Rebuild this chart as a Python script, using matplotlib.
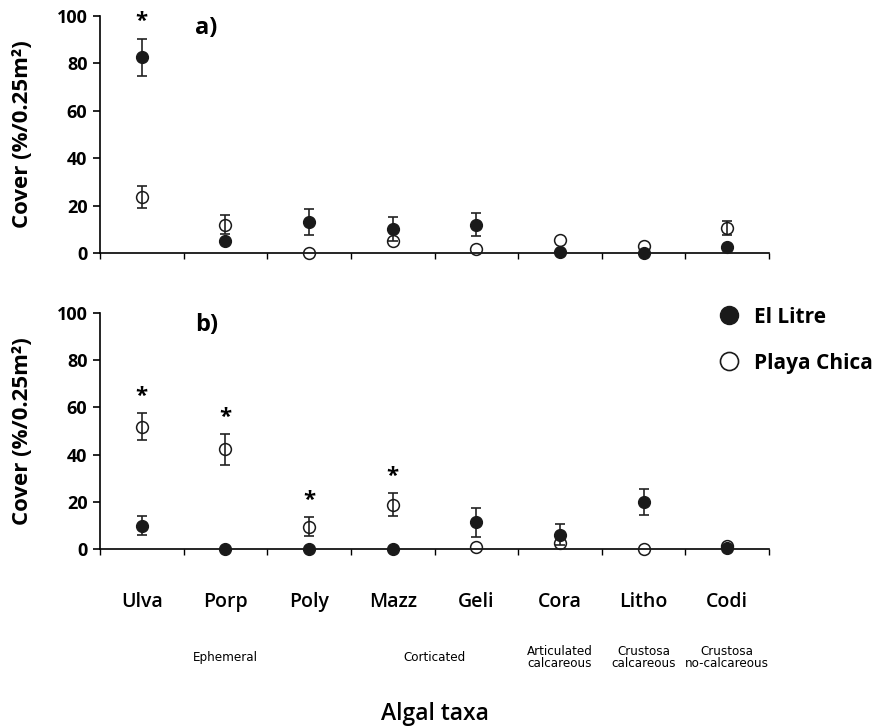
import numpy as np
import matplotlib.pyplot as plt
from matplotlib.lines import Line2D

plt.rcParams["font.family"] = ["Open Sans", "DejaVu Sans"]

taxa = ["Ulva", "Porp", "Poly", "Mazz", "Geli", "Cora", "Litho", "Codi"]
groups = [("Ephemeral", 0, 2), ("Corticated", 3, 4),
          ("Articulated\ncalcareous", 5, 5), ("Crustosa\ncalcareous", 6, 6),
          ("Crustosa\nno-calcareous", 7, 7)]

# panel a
a_litre = np.array([82.5, 5, 13, 10, 12, 0.5, 0, 2.7])
a_litre_se = np.array([8, 0, 5.5, 5, 4.8, 0, 0, 0])
a_chica = np.array([23.5, 12, 0, 5, 1.5, 5.5, 3, 10.4])
a_chica_se = np.array([4.7, 4, 0, 0, 0, 0, 0, 3])
a_signif = [True, False, False, False, False, False, False, False]

# panel b
b_litre = np.array([9.8, 0, 0, 0, 11.3, 6, 19.8, 0.3])
b_litre_se = np.array([4, 0, 0, 0, 6, 4.5, 5.5, 0])
b_chica = np.array([51.8, 42.2, 9.4, 18.8, 1, 2.4, 0, 1.4])
b_chica_se = np.array([5.8, 6.7, 4, 5, 0, 0, 0, 0])
b_signif = [True, True, True, True, False, False, False, False]

x = np.arange(len(taxa)) + 0.5


def draw_panel(ax, litre, litre_se, chica, chica_se, signif, tag):
    m = litre_se > 0
    ax.errorbar(x[m], litre[m], yerr=litre_se[m], fmt="none", ecolor="#222222",
                elinewidth=1.2, capsize=3.5, capthick=1.2, clip_on=False, zorder=2)
    ax.plot(x, litre, "o", ms=8.5, mfc="#1a1a1a", mec="#1a1a1a", clip_on=False, zorder=3)
    m = chica_se > 0
    ax.errorbar(x[m], chica[m], yerr=chica_se[m], fmt="none", ecolor="#222222",
                elinewidth=1.2, capsize=3.5, capthick=1.2, clip_on=False, zorder=4)
    ax.plot(x, chica, "o", ms=8.5, mfc="none", mec="#1a1a1a", mew=1.1, clip_on=False, zorder=5)

    top = np.maximum(litre + litre_se, chica + chica_se)
    for xi, t, s in zip(x, top, signif):
        if s:
            ax.text(xi, t + 7, "*", ha="center", va="center", fontsize=16, fontweight="bold")

    ax.text(1.27, 95, tag, ha="center", va="center", fontsize=17, fontweight="bold")

    ax.set_xlim(0, len(taxa))
    ax.set_ylim(0, 100)
    ax.set_xticks(np.arange(len(taxa) + 1))
    ax.set_xticklabels([])
    ax.set_yticks([0, 20, 40, 60, 80, 100])
    ax.tick_params(axis="y", labelsize=13, length=5, width=1.2, pad=4)
    ax.tick_params(axis="x", length=4, width=1.0)
    for lab in ax.get_yticklabels():
        lab.set_fontweight("bold")
    for side in ["top", "right"]:
        ax.spines[side].set_visible(False)
    ax.spines["left"].set_linewidth(1.2)
    ax.spines["bottom"].set_linewidth(1.2)
    ax.set_ylabel("Cover (%/0.25m²)", fontsize=16, fontweight="bold")
    ax.yaxis.set_label_coords(-0.1, 0.5)


fig = plt.figure(figsize=(8.81, 7.27), dpi=100)
ax1 = fig.add_axes([0.1135, 0.652, 0.7594, 0.326])
ax2 = fig.add_axes([0.1135, 0.2448, 0.7594, 0.3246])

draw_panel(ax1, a_litre, a_litre_se, a_chica, a_chica_se, a_signif, "a)")
draw_panel(ax2, b_litre, b_litre_se, b_chica, b_chica_se, b_signif, "b)")

for xi, name in zip(x, taxa):
    ax2.text(xi, -22.5, name, ha="center", va="center", fontsize=14,
             fontweight="semibold", clip_on=False)

for name, i0, i1 in groups:
    ax2.text((x[i0] + x[i1]) / 2, -46, name, ha="center", va="center", fontsize=9.5,
             family="DejaVu Sans", fontstretch="condensed", linespacing=0.95,
             clip_on=False)

ax2.text(4, -70, "Algal taxa", ha="center", va="center", fontsize=16.5,
         fontweight="semibold", clip_on=False)

handles = [
    Line2D([], [], ls="none", marker="o", ms=13, mfc="#1a1a1a", mec="#1a1a1a"),
    Line2D([], [], ls="none", marker="o", ms=13, mfc="none", mec="#1a1a1a", mew=1.2),
]
fig.legend(handles, ["El Litre", "Playa Chica"], loc="upper left",
           bbox_to_anchor=(0.792, 0.604), frameon=False,
           prop={"weight": "bold", "size": 15}, labelspacing=1.2,
           handletextpad=0.6, handlelength=1.2)

fig.savefig("out.png", dpi=100)
